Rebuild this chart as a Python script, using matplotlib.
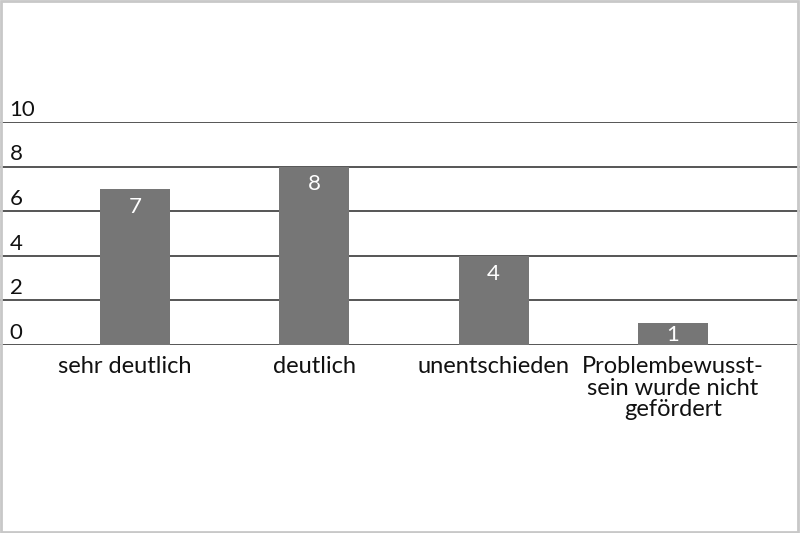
import matplotlib
matplotlib.use("Agg")
import matplotlib.pyplot as plt
from matplotlib.patches import Rectangle

categories = ["sehr deutlich", "deutlich", "unentschieden",
              "Problembewusst-\nsein wurde nicht\ngefördert"]
values = [7, 8, 4, 1]
yticks = [0, 2, 4, 6, 8, 10]

plt.rcParams['font.family'] = ['Lato', 'DejaVu Sans']

fig = plt.figure(figsize=(8, 5.33), dpi=100)
ax = fig.add_axes([0, 0.3527, 1, 0.4184])

ax.set_xlim(-0.753, 3.709)
ax.set_ylim(0, 10)
for s in ax.spines.values():
    s.set_visible(False)
ax.set_xticks([])
ax.set_yticks([])

for t in yticks:
    ax.axhline(t, color="#555555", lw=1.4, zorder=1)
    ax.text(0.012, t + 0.1, str(t), transform=ax.get_yaxis_transform(),
            ha="left", va="bottom", fontsize=16, color="#111111")

xs = range(len(categories))
ax.bar(xs, values, width=0.39, color="#767676", zorder=2)
for x, v in zip(xs, values):
    off = 0.35 if v > 2 else 0.1
    ax.text(x, v - off, str(v), ha="center", va="top", fontsize=16,
            color="white", zorder=3)

# first label sits a little left of its bar in the original
shifts = [-0.055, 0, 0, 0]
for x, c, dx in zip(xs, categories, shifts):
    ax.text(x + dx, -0.5, c, ha="center", va="top", fontsize=17,
            color="#111111", linespacing=1.03)

fig.patches.append(Rectangle((0.001, 0.001), 0.997, 0.997, transform=fig.transFigure,
                             fill=False, edgecolor="#c8c8c8", lw=2))

fig.savefig("out.png", dpi=100)
